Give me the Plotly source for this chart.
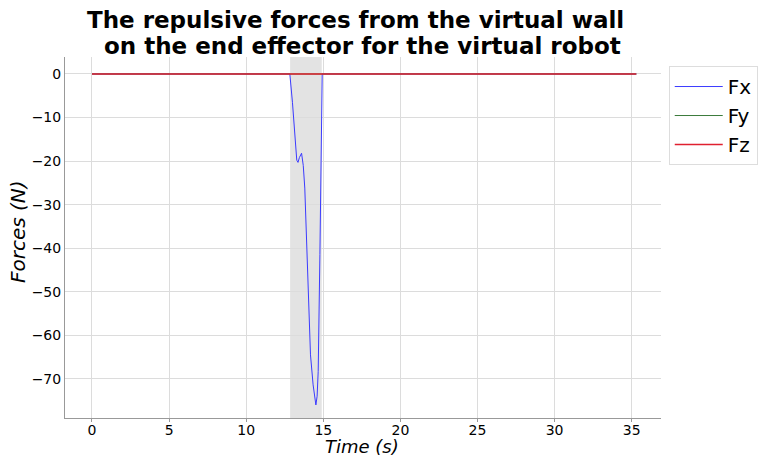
import plotly.graph_objects as go

# Time samples (s) and forces (N)
time_fx = [0, 12.83, 13.0, 13.16, 13.28, 13.36, 13.45, 13.59, 13.7, 13.8, 14.02, 14.17, 14.34, 14.45, 14.52, 14.6, 14.67, 14.78, 14.89, 14.93, 20, 35.3]
fx = [0, 0, -6.5, -14.8, -19.8, -20.3, -19.2, -18.2, -21.0, -26.2, -49.2, -64.5, -71.4, -74.5, -76, -74, -68.3, -41.5, -10.9, 0, 0, 0]
time_fyz = [0, 35.3]
fy = [0, 0]
fz = [0, 0]
wall_contact = [12.85, 14.9]
title_lines = ["The repulsive forces from the virtual wall", "on the end effector for the virtual robot"]

L, R, T, B, W, H = 65, 99, 57, 40, 760, 458
pw, ph = W - L - R, H - T - B


def px(x):
    return (x - L) / pw


def py(y):
    return (H - B - y) / ph


fig = go.Figure()
fig.add_vrect(x0=wall_contact[0], x1=wall_contact[1], fillcolor="#e3e3e3", line_width=0, layer="below")
fig.add_trace(go.Scatter(x=time_fx, y=fx, name="Fx", mode="lines",
                         line=dict(color="#3b3bff", width=1)))
fig.add_trace(go.Scatter(x=time_fyz, y=fy, name="Fy", mode="lines",
                         line=dict(color="#3a7a3a", width=1)))
fig.add_trace(go.Scatter(x=time_fyz, y=fz, name="Fz", mode="lines",
                         line=dict(color="#e02030", width=1.5)))

fig.add_annotation(text="<b>" + title_lines[0] + "</b>", xref="paper", yref="paper",
                   x=px(355), y=py(20), xanchor="center", yanchor="middle",
                   showarrow=False, font=dict(size=23, family="DejaVu Sans", color="black"))
fig.add_annotation(text="<b>" + title_lines[1] + "</b>", xref="paper", yref="paper",
                   x=px(362), y=py(46), xanchor="center", yanchor="middle",
                   showarrow=False, font=dict(size=23, family="DejaVu Sans", color="black"))
fig.add_annotation(text="<i>Time (s)</i>", xref="paper", yref="paper",
                   x=px(362), y=py(458), xanchor="center", yanchor="bottom", borderpad=0,
                   showarrow=False, font=dict(size=18, family="DejaVu Sans", color="black"))
fig.add_annotation(text="<i>Forces (N)</i>", xref="paper", yref="paper", textangle=-90,
                   x=px(18), y=py(232), xanchor="center", yanchor="middle",
                   showarrow=False, font=dict(size=20, family="DejaVu Sans", color="black"))

fig.update_layout(
    width=W, height=H,
    margin=dict(l=L, r=R, t=T, b=B, autoexpand=False),
    paper_bgcolor="white", plot_bgcolor="white",
    font=dict(family="DejaVu Sans", color="black"),
    legend=dict(x=1.013, y=0.975, xanchor="left", yanchor="top",
                bordercolor="#dddddd", borderwidth=1, font=dict(size=20),
                itemwidth=48, tracegroupgap=0),
    xaxis=dict(range=[-1.75, 36.9], tickvals=[0, 5, 10, 15, 20, 25, 30, 35],
               automargin=False,
               showgrid=True, gridcolor="#dcdcdc", gridwidth=1,
               showline=True, linecolor="#999999", linewidth=1, zeroline=False,
               ticks="outside", ticklen=3, tickcolor="#999999",
               ticklabelstandoff=-4,
               tickfont=dict(size=14)),
    yaxis=dict(range=[-79.0, 3.9], tickvals=[0, -10, -20, -30, -40, -50, -60, -70],
               automargin=False,
               ticktext=["0", "−10", "−20", "−30", "−40", "−50", "−60", "−70"],
               showgrid=True, gridcolor="#dcdcdc", gridwidth=1,
               showline=True, linecolor="#999999", linewidth=1, zeroline=False,
               ticks="", tickfont=dict(size=14)),
)

fig.write_html("out.html")
